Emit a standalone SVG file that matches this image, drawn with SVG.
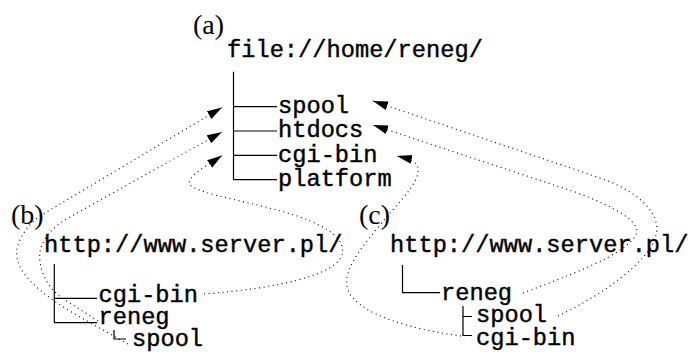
<svg xmlns="http://www.w3.org/2000/svg" width="688" height="352" viewBox="0 0 688 352">
<style>
  .tt { font-family: "Liberation Mono", "DejaVu Sans Mono", monospace; font-size: 23.7px; fill: #000; stroke: #000; stroke-width: 0.4; }
  .lbl { font-family: "Liberation Serif", "DejaVu Serif", serif; font-size: 28px; fill: #000; }
  .tree { fill: none; stroke: #000; stroke-width: 1.2; }
  .map { fill: none; stroke: #000; stroke-width: 1.1; stroke-dasharray: 1 3.6; }
</style>
<defs>
  <marker id="ah" markerUnits="userSpaceOnUse" markerWidth="16" markerHeight="10" refX="15" refY="4.5" orient="auto">
    <path d="M0,0 L15,4.5 L0,9 z" fill="#000"/>
  </marker>
</defs>
<rect width="688" height="352" fill="#fff"/>

<g id="labels">
  <text id="label-a" class="lbl" x="193" y="33.5">(a)</text>
  <text id="label-b" class="lbl" x="11" y="223.5">(b)</text>
  <text id="label-c" class="lbl" x="359" y="223.5">(c)</text>
</g>

<g id="tree-a">
  <text id="a-root" class="tt" x="227" y="57">file://home/reneg/</text>
  <text id="a-spool" class="tt" x="278" y="113">spool</text>
  <text id="a-htdocs" class="tt" x="278" y="137.3">htdocs</text>
  <text id="a-cgibin" class="tt" x="278" y="161.6">cgi-bin</text>
  <text id="a-platform" class="tt" x="278" y="186">platform</text>
</g>

<g id="tree-b">
  <text id="b-root" class="tt" x="44" y="252">http://www.server.pl/</text>
  <text id="b-cgibin" class="tt" x="98.5" y="302">cgi-bin</text>
  <text id="b-reneg" class="tt" x="98.5" y="324">reneg</text>
  <text id="b-spool" class="tt" x="132" y="346">spool</text>
</g>

<g id="tree-c">
  <text id="c-root" class="tt" x="390" y="252">http://www.server.pl/</text>
  <text id="c-reneg" class="tt" x="441" y="300">reneg</text>
  <text id="c-spool" class="tt" x="476" y="322">spool</text>
  <text id="c-cgibin" class="tt" x="476" y="345">cgi-bin</text>
</g>

<g id="connectors">
  <g id="tree-lines">
    <path class="tree" d="M233.5,71.7 V179.7 M233.5,106.7 H277 M233.5,131 H277 M233.5,155.3 H277 M233.5,179.7 H277"/>
    <path class="tree" d="M54.3,264 V322.7 M54.3,298.3 H97 M54.3,322.7 H97 M114,330 V339 H126"/>
    <path class="tree" d="M402.5,265 V292.7 H440 M463,306 V335.5 H472 M463,316.5 H472"/>
  </g>
  <g id="mappings">
    <path id="b-spool-to-a-spool" class="map" marker-end="url(#ah)" d="M128,344 L80,317 C40,294 10,270 18,245 C24,228 35,219 45,213 L222,107.5"/>
    <path id="b-reneg-to-a-htdocs" class="map" marker-end="url(#ah)" d="M98,321 L62,298 C48,288 38,270 40,252 C42,238 55,225 70,217 L222,132"/>
    <path id="b-cgibin-to-a-cgibin" class="map" marker-end="url(#ah)" d="M204,294 C280,288 335,275 342,255 C346,240 330,228 300,217 C260,203 200,195 190,185 C185,177 208,165 222,155.5"/>
    <path id="c-spool-to-a-spool" class="map" marker-end="url(#ah)" d="M558,316 C600,296 650,262 656,235 C662,212 635,190 600,178 L373,101"/>
    <path id="c-reneg-to-a-htdocs" class="map" marker-end="url(#ah)" d="M523,293 C570,275 625,255 636,235 C642,222 615,207 575,192 L373,125"/>
    <path id="c-cgibin-to-a-cgibin" class="map" marker-end="url(#ah)" d="M461,336 C415,330 358,315 348,290 C340,268 370,238 390,213 C405,196 420,180 418,168 C417,162 410,159 397,156"/>
  </g>
</g>
</svg>
